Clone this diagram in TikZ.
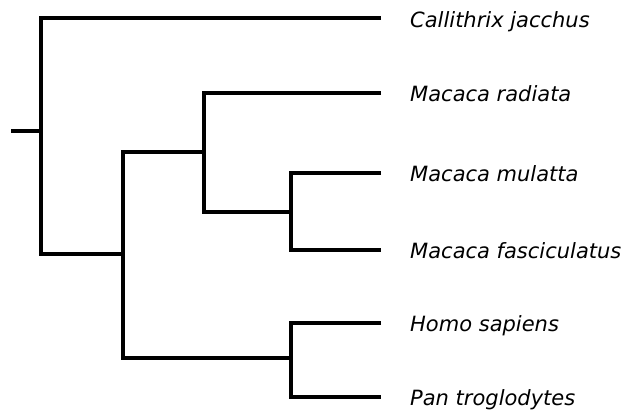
\documentclass[tikz,border=0pt]{standalone}
\usepackage{fontspec}
\setmainfont{DejaVu Sans}
\begin{document}
\begin{tikzpicture}[x=1pt,y=-1pt,
  br/.style={line width=3.4pt,line cap=butt,line join=miter},
  taxon/.style={anchor=base west,inner sep=0pt,font=\fontsize{21}{25}\selectfont\itshape}]
\useasboundingbox (0,0) rectangle (629,416);
% internal nodes
\coordinate (root) at (11,131);
\coordinate (n1) at (41,131);
\coordinate (n2) at (123,254);
\coordinate (n3) at (204,152);
\coordinate (n4) at (291,212);
\coordinate (n5) at (291,358);
% leaf tips
\coordinate (t1) at (381,18);
\coordinate (t2) at (381,93);
\coordinate (t3) at (381,173);
\coordinate (t4) at (381,250);
\coordinate (t5) at (381,323);
\coordinate (t6) at (381,397);
% tree
\draw[br] (root) -- (n1);
\draw[br] (t1) -| (n1) |- (n2);
\draw[br] (n3) -| (n2) |- (n5);
\draw[br] (t2) -| (n3) |- (n4);
\draw[br] (t3) -| (n4) |- (t4);
\draw[br] (t5) -| (n5) |- (t6);
% labels
\node[taxon] (l1) at (410,27) {Callithrix jacchus};
\node[taxon] (l2) at (410,101) {Macaca radiata};
\node[taxon] (l3) at (410,181) {Macaca mulatta};
\node[taxon] (l4) at (410,258) {Macaca fasciculatus};
\node[taxon] (l5) at (410,331) {Homo sapiens};
\node[taxon] (l6) at (410,405) {Pan troglodytes};
\end{tikzpicture}
\end{document}
